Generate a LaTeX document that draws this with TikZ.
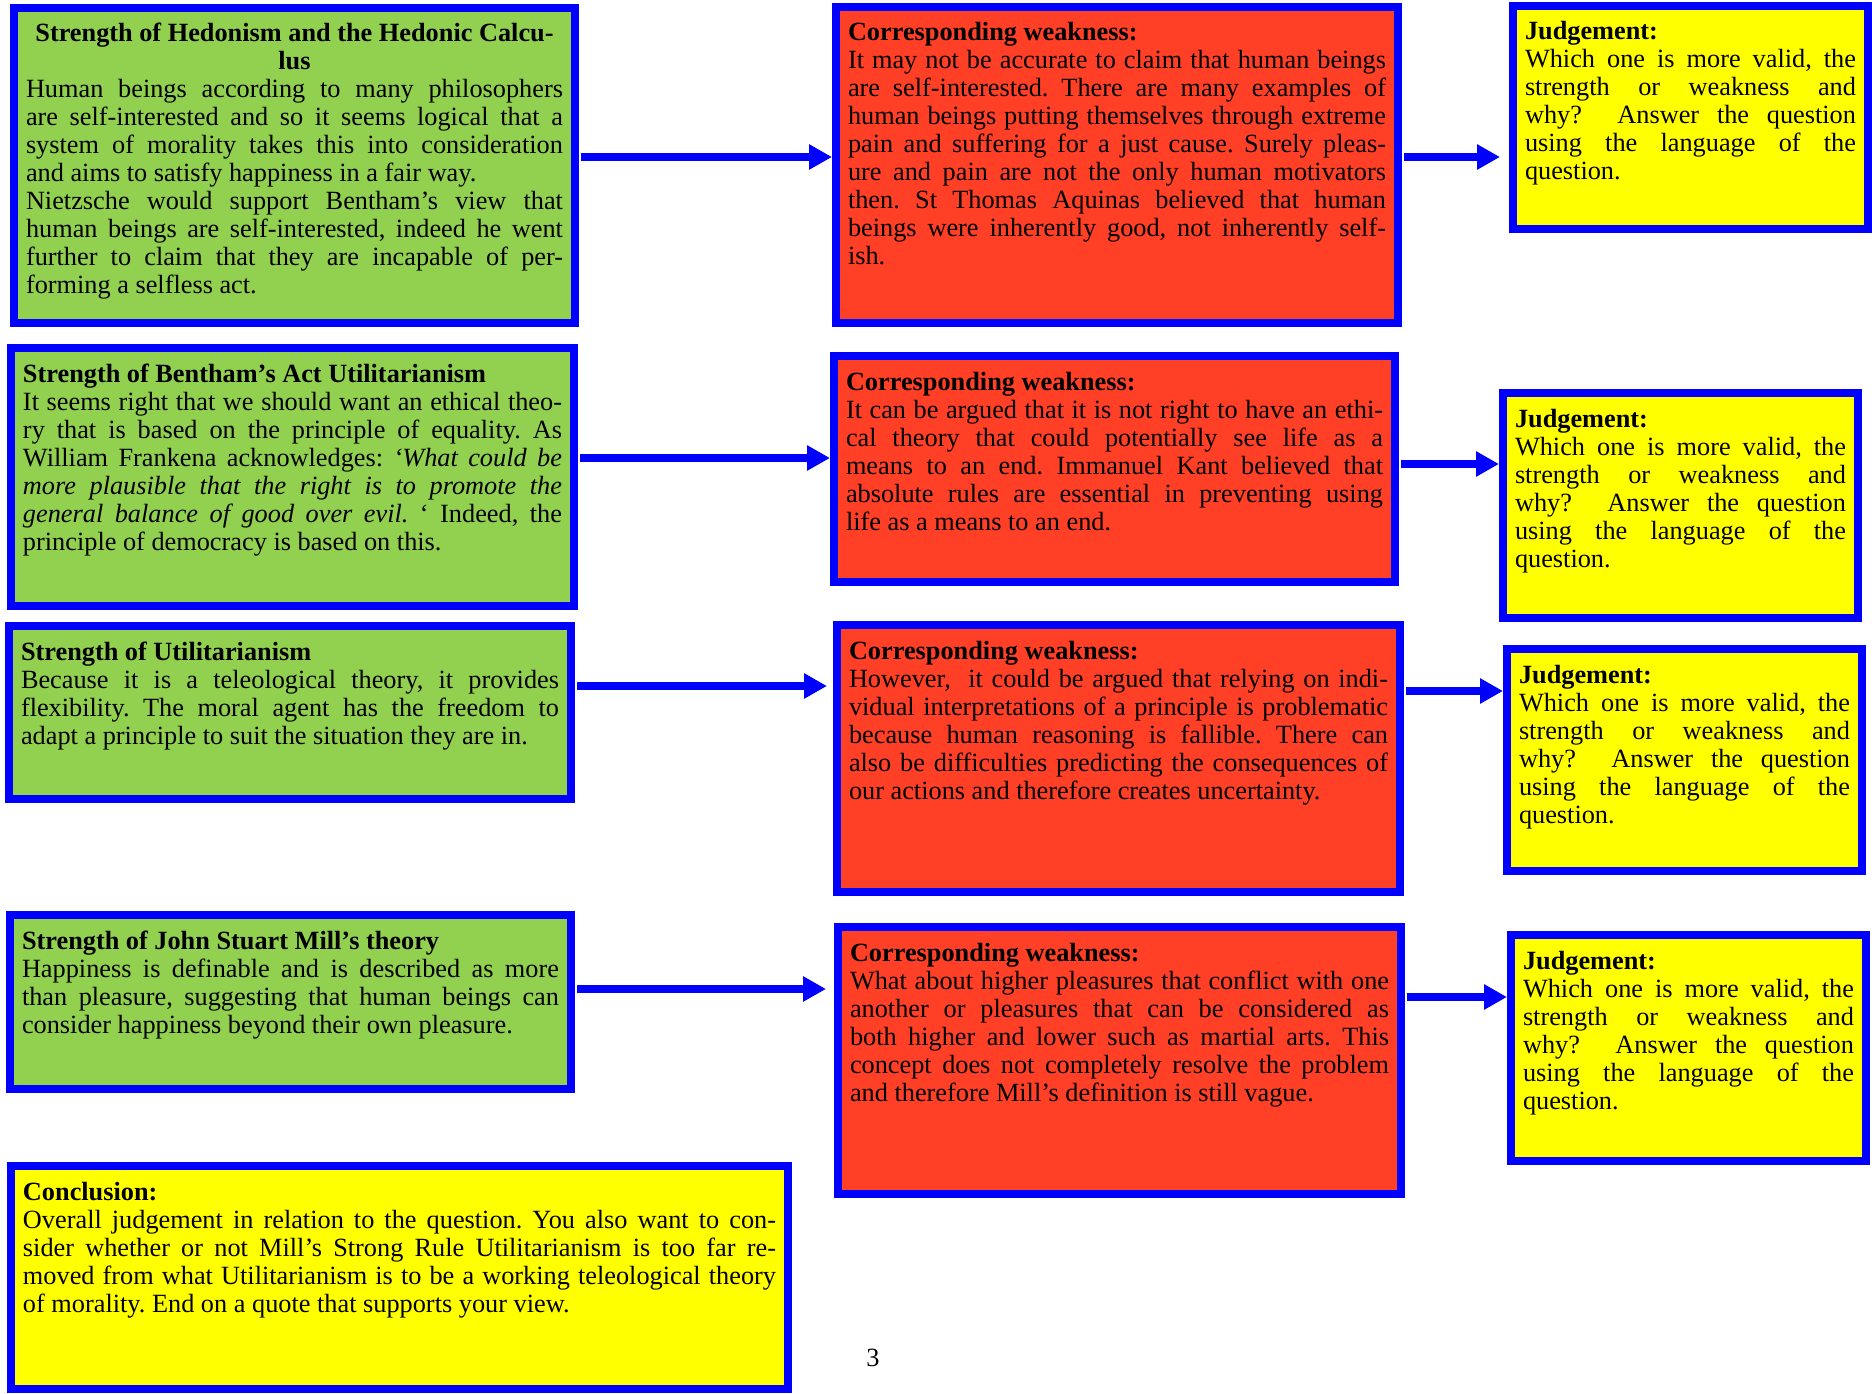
\documentclass[tikz,border=0pt]{standalone}
\usepackage{fontspec}
\setmainfont{Liberation Serif}
\usetikzlibrary{arrows.meta}
\definecolor{boxblue}{HTML}{0000FF}
\definecolor{strengthgreen}{HTML}{92D050}
\definecolor{weaknessred}{HTML}{FF3F26}
\definecolor{judgeyellow}{HTML}{FFFF00}
\tikzstyle{box} = [rectangle, draw=boxblue, line width=8pt, outer sep=4pt, inner xsep=12pt, inner ysep=12pt, text height=22pt, align=justify, anchor=north west, font=\fontsize{26.3}{28}\selectfont]
\tikzstyle{strength} = [box, fill=strengthgreen]
\tikzstyle{weakness} = [box, fill=weaknessred]
\tikzstyle{judgement} = [box, fill=judgeyellow]
\tikzstyle{link} = [line width=8pt, draw=boxblue, shorten <=2pt, -{Triangle[length=23pt, width=24pt]}]
\hyphenpenalty=10000 \exhyphenpenalty=10000 \tolerance=10000 \hbadness=10000
\frenchspacing
\begin{document}
\begin{tikzpicture}[x=1pt, y=-1pt]
	\useasboundingbox (0,0) rectangle (1872,1394);

	% Strengths
	\node (s1) [strength, text width=537pt, text depth=269pt] at (10,4) {{\centering\textbf{Strength of Hedonism and the Hedonic Calcu-\\lus}\par}Human beings according to many philosophers\linebreak are self-interested and so it seems logical that a\linebreak system of morality takes this into consideration\linebreak and aims to satisfy happiness in a fair way.\\
		Nietzsche would support Bentham’s view that\linebreak human beings are self-interested, indeed he went\linebreak further to claim that they are incapable of per-\linebreak forming a selfless act.};
	\node (s2) [strength, text width=539pt, text depth=212pt] at (7,344) {\textbf{Strength of Bentham’s Act Utilitarianism}\\
		It seems right that we should want an ethical theo-\linebreak ry that is based on the principle of equality. As\linebreak William Frankena acknowledges: \textit{‘What could be\linebreak more plausible that the right is to promote the\linebreak general balance of good over evil.} ‘ Indeed, the\linebreak principle of democracy is based on this.};
	\node (s3) [strength, text width=538pt, text depth=127pt] at (5,622) {\textbf{Strength of Utilitarianism}\\
		Because it is a teleological theory, it provides\linebreak flexibility. The moral agent has the freedom to\linebreak adapt a principle to suit the situation they are in.};
	\node (s4) [strength, text width=537pt, text depth=128pt] at (6,911) {\textbf{Strength of John Stuart Mill’s theory}\\
		Happiness is definable and is described as more\linebreak than pleasure, suggesting that human beings can\linebreak consider happiness beyond their own pleasure.};

	% Weaknesses
	\node (w1) [weakness, text width=538pt, text depth=270pt] at (832,3) {\textbf{Corresponding weakness:}\\
		It may not be accurate to claim that human beings\linebreak are self-interested. There are many examples of\linebreak human beings putting themselves through extreme\linebreak pain and suffering for a just cause. Surely pleas-\linebreak ure and pain are not the only human motivators\linebreak then. St Thomas Aquinas believed that human\linebreak beings were inherently good, not inherently self-\linebreak ish.};
	\node (w2) [weakness, text width=537pt, text depth=180pt] at (830,352) {\textbf{Corresponding weakness:}\\
		It can be argued that it is not right to have an ethi-\linebreak cal theory that could potentially see life as a\linebreak means to an end. Immanuel Kant believed that\linebreak absolute rules are essential in preventing using\linebreak life as a means to an end.};
	\node (w3) [weakness, text width=539pt, text depth=221pt] at (833,621) {\textbf{Corresponding weakness:}\\
		However,\ \ it could be argued that relying on indi-\linebreak vidual interpretations of a principle is problematic\linebreak because human reasoning is fallible. There can\linebreak also be difficulties predicting the consequences of\linebreak our actions and therefore creates uncertainty.};
	\node (w4) [weakness, text width=539pt, text depth=221pt] at (834,923) {\textbf{Corresponding weakness:}\\
		What about higher pleasures that conflict with one\linebreak another or pleasures that can be considered as\linebreak both higher and lower such as martial arts. This\linebreak concept does not completely resolve the problem\linebreak and therefore Mill’s definition is still vague.};

	% Judgements
	\node (j1) [judgement, text width=331pt, text depth=177pt] at (1509,2) {\textbf{Judgement:}\\
		Which one is more valid, the\linebreak strength or weakness and\linebreak why?\ \ Answer the question\linebreak using the language of the\linebreak question.};
	\node (j2) [judgement, text width=331pt, text depth=179pt] at (1499,389) {\textbf{Judgement:}\\
		Which one is more valid, the\linebreak strength or weakness and\linebreak why?\ \ Answer the question\linebreak using the language of the\linebreak question.};
	\node (j3) [judgement, text width=331pt, text depth=176pt] at (1503,645) {\textbf{Judgement:}\\
		Which one is more valid, the\linebreak strength or weakness and\linebreak why?\ \ Answer the question\linebreak using the language of the\linebreak question.};
	\node (j4) [judgement, text width=331pt, text depth=180pt] at (1507,931) {\textbf{Judgement:}\\
		Which one is more valid, the\linebreak strength or weakness and\linebreak why?\ \ Answer the question\linebreak using the language of the\linebreak question.};

	% Conclusion
	\node (concl) [judgement, text width=753pt, text depth=177pt] at (7,1162) {\textbf{Conclusion:}\\
		Overall judgement in relation to the question. You also want to con-\linebreak sider whether or not Mill’s Strong Rule Utilitarianism is too far re-\linebreak moved from what Utilitarianism is to be a working teleological theory\linebreak of morality. End on a quote that supports your view.};

	\node (pagenum) [font=\fontsize{26.3}{28}\selectfont] at (873,1358) {3};

	% Arrow heights
	\coordinate (a1) at ([yshift=8.5pt]s1.east);
	\coordinate (b1) at ([yshift=8pt]w1.east);
	\coordinate (a2) at ([yshift=19pt]s2.east);
	\coordinate (b2) at ([yshift=5pt]w2.east);
	\coordinate (a3) at ([yshift=26.5pt]s3.east);
	\coordinate (b3) at ([yshift=67.5pt]w3.east);
	\coordinate (a4) at ([yshift=13pt]s4.east);
	\coordinate (b4) at ([yshift=63.5pt]w4.east);

	% Arrows
	\draw[link] (a1) -- (a1 -| w1.west);
	\draw[link, shorten >=9pt] (b1) -- (b1 -| j1.west);
	\draw[link] (a2) -- (a2 -| w2.west);
	\draw[link] (b2) -- (b2 -| j2.west);
	\draw[link, shorten >=6pt] (a3) -- (a3 -| w3.west);
	\draw[link] (b3) -- (b3 -| j3.west);
	\draw[link, shorten >=8pt] (a4) -- (a4 -| w4.west);
	\draw[link] (b4) -- (b4 -| j4.west);

\end{tikzpicture}
\end{document}
